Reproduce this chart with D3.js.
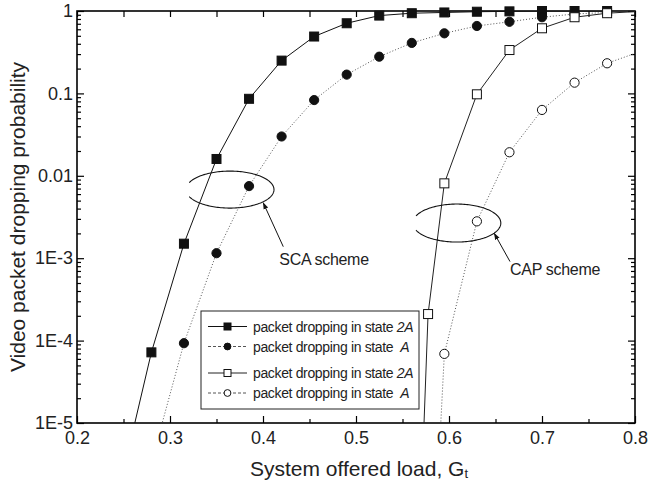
<!DOCTYPE html>
<html>
<head>
<meta charset="utf-8">
<script src="https://cdn.jsdelivr.net/npm/d3@7"></script>
<style>
  body { margin: 0; background: #fff; }
  svg { font-family: "Liberation Sans", Arial, sans-serif; }
</style>
</head>
<body>
<div id="chart"></div>
<script>
// SCA scheme
var loadSCA2A = [0.245, 0.28, 0.315, 0.35, 0.385, 0.42, 0.455, 0.49, 0.525, 0.56, 0.595, 0.63, 0.665, 0.7, 0.735, 0.77];
var scaState2A = [1.5e-6, 7.2e-5, 1.5e-3, 0.016, 0.086, 0.25, 0.49, 0.71, 0.88, 0.94, 0.96, 0.98, 0.99, 1, 1, 1];
var loadSCAA = [0.28, 0.315, 0.35, 0.385, 0.42, 0.455, 0.49, 0.525, 0.56, 0.595, 0.63, 0.665, 0.7, 0.735, 0.77];
var scaStateA = [3.3e-6, 9.3e-5, 1.15e-3, 7.5e-3, 0.030, 0.083, 0.169, 0.279, 0.41, 0.536, 0.658, 0.74, 0.84, 0.92, 0.96];
// CAP scheme
var loadCAP2A = [0.56, 0.5775, 0.595, 0.63, 0.665, 0.7, 0.735, 0.77, 0.805];
var capState2A = [1e-9, 2.1e-4, 8.1e-3, 0.0975, 0.336, 0.617, 0.84, 0.94, 0.99];
var loadCAPA = [0.5775, 0.595, 0.63, 0.665, 0.7, 0.735, 0.77, 0.805];
var capStateA = [1e-8, 6.9e-5, 2.8e-3, 0.0193, 0.063, 0.135, 0.232, 0.32];

var xTicks = [0.2, 0.3, 0.4, 0.5, 0.6, 0.7, 0.8];
var yTicks = [1, 0.1, 0.01, 1e-3, 1e-4, 1e-5];
var yTickLabels = ["1", "0.1", "0.01", "1E-3", "1E-4", "1E-5"];
var legendLabels = ["packet dropping in state ", "packet dropping in state  ", "packet dropping in state ", "packet dropping in state  "];
var legendStates = ["2A", "A", "2A", "A"];

var width = 650, height = 484;
var margin = {left: 77, right: 15, top: 11, bottom: 61};

var svg = d3.select("#chart").append("svg")
	.attr("width", width)
	.attr("height", height);

var x = d3.scaleLinear().domain([0.2, 0.8]).range([margin.left, width - margin.right]);
var y = d3.scaleLog().domain([1e-5, 1]).range([height - margin.bottom, margin.top]);

var plotBottom = y(1e-5), plotTop = y(1), plotLeft = x(0.2), plotRight = x(0.8);

svg.append("clipPath").attr("id", "plotclip")
	.append("rect")
	.attr("x", plotLeft).attr("y", plotTop)
	.attr("width", plotRight - plotLeft).attr("height", plotBottom - plotTop);

// minor ticks
var xMinor = d3.range(0.25, 0.8, 0.1);
var yMinor = [];
for (var e = -5; e < 0; e++) {
	for (var m = 2; m <= 9; m++) yMinor.push(m * Math.pow(10, e));
}

function styleAxis(g) {
	g.select(".domain").remove();
	g.selectAll("line").attr("stroke", "#000").attr("stroke-width", 1.2);
	g.selectAll("text").attr("fill", "#222").attr("font-size", 18);
}

svg.append("g").attr("transform", "translate(0," + plotBottom + ")")
	.call(d3.axisBottom(x).tickValues(xTicks).tickSizeInner(-7).tickSizeOuter(0).tickPadding(8)
		.tickFormat(d3.format(".1f")))
	.call(styleAxis);
svg.append("g").attr("transform", "translate(0," + plotBottom + ")")
	.call(d3.axisBottom(x).tickValues(xMinor).tickSize(-4).tickFormat(""))
	.call(styleAxis);
svg.append("g").attr("transform", "translate(0," + plotTop + ")")
	.call(d3.axisTop(x).tickValues(xTicks.concat(xMinor)).tickSize(-6).tickFormat(""))
	.call(styleAxis);

svg.append("g").attr("transform", "translate(" + plotLeft + ",0)")
	.call(d3.axisLeft(y).tickValues(yTicks).tickSizeInner(-7).tickSizeOuter(0).tickPadding(4)
		.tickFormat(function(d, i) { return yTickLabels[i]; }))
	.call(styleAxis);
svg.append("g").attr("transform", "translate(" + plotLeft + ",0)")
	.call(d3.axisLeft(y).tickValues(yMinor).tickSize(-4).tickFormat(""))
	.call(styleAxis);
svg.append("g").attr("transform", "translate(" + plotRight + ",0)")
	.call(d3.axisRight(y).tickValues(yTicks).tickSize(-7).tickFormat(""))
	.call(styleAxis);
svg.append("g").attr("transform", "translate(" + plotRight + ",0)")
	.call(d3.axisRight(y).tickValues(yMinor).tickSize(-4).tickFormat(""))
	.call(styleAxis);

// frame
svg.append("rect")
	.attr("x", plotLeft).attr("y", plotTop)
	.attr("width", plotRight - plotLeft).attr("height", plotBottom - plotTop)
	.attr("fill", "none").attr("stroke", "#000").attr("stroke-width", 1.6);

// axis titles
svg.append("text")
	.attr("x", 250).attr("y", 476)
	.attr("font-size", 21).attr("fill", "#222")
	.text("System offered load, G")
	.append("tspan").attr("font-size", 13).attr("dy", 2).text("t");
svg.append("text")
	.attr("transform", "translate(25," + ((plotTop + plotBottom) / 2) + ") rotate(-90)")
	.attr("text-anchor", "middle")
	.attr("font-size", 21).attr("fill", "#222")
	.text("Video packet dropping probability");

// series
var series = [
	{xs: loadSCA2A, ys: scaState2A, dash: null, color: "#111", shape: "square", fill: "#111"},
	{xs: loadSCAA, ys: scaStateA, dash: "1,2", color: "#555", shape: "circle", fill: "#111"},
	{xs: loadCAP2A, ys: capState2A, dash: null, color: "#222", shape: "square", fill: "#fff"},
	{xs: loadCAPA, ys: capStateA, dash: "1,2", color: "#555", shape: "circle", fill: "#fff"}
];

var line = d3.line().x(function(d) { return x(d[0]); }).y(function(d) { return y(d[1]); });

series.forEach(function(s) {
	var pts = s.xs.map(function(v, i) { return [v, s.ys[i]]; });
	svg.append("path")
		.datum(pts)
		.attr("clip-path", "url(#plotclip)")
		.attr("fill", "none")
		.attr("stroke", s.color)
		.attr("stroke-width", 1)
		.attr("stroke-dasharray", s.dash)
		.attr("d", line);
});

series.forEach(function(s) {
	var pts = s.xs.map(function(v, i) { return [v, s.ys[i]]; })
		.filter(function(d) { return d[0] >= 0.2 && d[0] <= 0.8 && d[1] >= 1e-5; });
	var g = svg.append("g");
	if (s.shape == "square") {
		g.selectAll("rect").data(pts).enter().append("rect")
			.attr("x", function(d) { return x(d[0]) - 4.5; })
			.attr("y", function(d) { return y(d[1]) - 4.5; })
			.attr("width", 9).attr("height", 9)
			.attr("fill", s.fill).attr("stroke", "#111").attr("stroke-width", 1);
	} else {
		g.selectAll("circle").data(pts).enter().append("circle")
			.attr("cx", function(d) { return x(d[0]); })
			.attr("cy", function(d) { return y(d[1]); })
			.attr("r", 4.6)
			.attr("fill", s.fill).attr("stroke", "#111").attr("stroke-width", 1);
	}
});

// annotations (ellipse open on the left, arrow, label)
var notes = [
	{cx: 0.3645, cy: 0.0068, rx: 44, ry: 18.5, from: [0.4218, 1.38e-3], to: [0.4003, 4.7e-3], tx: 0.4175, ty: 8.3e-4, label: "SCA scheme"},
	{cx: 0.6084, cy: 0.00267, rx: 44, ry: 19, from: [0.6656, 9.1e-4], to: [0.6487, 2.0e-3], tx: 0.6656, ty: 6.25e-4, label: "CAP scheme"}
];

svg.append("defs").append("marker")
	.attr("id", "arrow").attr("viewBox", "0 0 10 10")
	.attr("refX", 9).attr("refY", 5)
	.attr("markerWidth", 7).attr("markerHeight", 7)
	.attr("orient", "auto")
	.append("path").attr("d", "M0,1.5 L10,5 L0,8.5 Z").attr("fill", "#111");

notes.forEach(function(n) {
	var cx = x(n.cx), cy = y(n.cy);
	var arc = d3.range(202, 519, 2).map(function(a) {
		var t = a * Math.PI / 180;
		return [cx + n.rx * Math.cos(t), cy + n.ry * Math.sin(t)];
	});
	svg.append("path")
		.attr("d", d3.line()(arc))
		.attr("fill", "none").attr("stroke", "#111").attr("stroke-width", 1.1);
	svg.append("line")
		.attr("x1", x(n.from[0])).attr("y1", y(n.from[1]))
		.attr("x2", x(n.to[0])).attr("y2", y(n.to[1]))
		.attr("stroke", "#111").attr("stroke-width", 1)
		.attr("marker-end", "url(#arrow)");
	svg.append("text")
		.attr("x", x(n.tx)).attr("y", y(n.ty))
		.attr("font-size", 16).attr("letter-spacing", -0.3).attr("fill", "#222")
		.text(n.label);
});

// legend
var lg = svg.append("g");
lg.append("rect")
	.attr("x", 201).attr("y", 311).attr("width", 218).attr("height", 98)
	.attr("fill", "#fff").attr("stroke", "#222").attr("stroke-width", 1);
var rowY = [326.5, 346.5, 373, 393];
series.forEach(function(s, i) {
	var ry = rowY[i];
	lg.append("line")
		.attr("x1", 208).attr("x2", 247).attr("y1", ry).attr("y2", ry)
		.attr("stroke", s.color).attr("stroke-width", 1)
		.attr("stroke-dasharray", s.dash ? "3,2" : null);
	if (s.shape == "square") {
		lg.append("rect").attr("x", 224).attr("y", ry - 3.5).attr("width", 7).attr("height", 7)
			.attr("fill", s.fill).attr("stroke", "#111");
	} else {
		lg.append("circle").attr("cx", 227.5).attr("cy", ry).attr("r", 3.4)
			.attr("fill", s.fill).attr("stroke", "#111");
	}
	var t = lg.append("text")
		.attr("x", 253).attr("y", ry + 5)
		.attr("font-size", 14).attr("letter-spacing", -0.35).attr("fill", "#222")
		.attr("xml:space", "preserve")
		.style("white-space", "pre")
		.text(legendLabels[i]);
	t.append("tspan").attr("font-style", "italic").text(legendStates[i]);
});
</script>
</body>
</html>
